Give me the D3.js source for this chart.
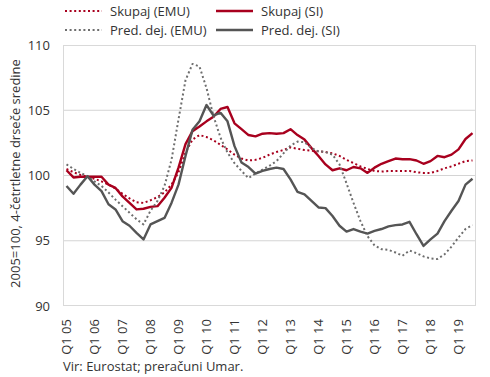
<!DOCTYPE html>
<html>
<head>
<meta charset="utf-8">
<script src="https://cdn.jsdelivr.net/npm/d3@7"></script>
<style>
  body { margin: 0; background: #fff; }
  svg text { font-family: "Open Sans", sans-serif; fill: #333; }
</style>
</head>
<body>
<div id="my_dataviz"></div>
<script>
const quarters = [
  "Q1 05","Q2 05","Q3 05","Q4 05","Q1 06","Q2 06","Q3 06","Q4 06",
  "Q1 07","Q2 07","Q3 07","Q4 07","Q1 08","Q2 08","Q3 08","Q4 08",
  "Q1 09","Q2 09","Q3 09","Q4 09","Q1 10","Q2 10","Q3 10","Q4 10",
  "Q1 11","Q2 11","Q3 11","Q4 11","Q1 12","Q2 12","Q3 12","Q4 12",
  "Q1 13","Q2 13","Q3 13","Q4 13","Q1 14","Q2 14","Q3 14","Q4 14",
  "Q1 15","Q2 15","Q3 15","Q4 15","Q1 16","Q2 16","Q3 16","Q4 16",
  "Q1 17","Q2 17","Q3 17","Q4 17","Q1 18","Q2 18","Q3 18","Q4 18",
  "Q1 19","Q2 19","Q3 19"
];

const skupajEMU = [100.5,100.25,100.05,99.9,99.75,99.55,99.3,99.0,98.6,98.25,
  97.95,97.9,98.1,98.35,98.7,99.3,100.25,101.75,102.75,103.1,
  102.95,102.7,102.35,102.0,101.6,101.3,101.15,101.2,101.35,101.6,
  101.8,101.95,102.15,102.05,101.95,101.9,101.85,101.8,101.7,101.5,
  101.2,100.95,100.7,100.5,100.35,100.3,100.35,100.35,100.35,100.35,
  100.25,100.2,100.2,100.35,100.55,100.7,100.9,101.1,101.15];

const skupajSI = [100.4,99.85,99.9,99.9,99.9,99.9,99.3,99.05,98.4,97.9,
  97.4,97.45,97.6,97.65,98.3,99.05,100.6,102.4,103.4,103.75,
  104.15,104.5,105.1,105.25,104.0,103.55,103.1,103.0,103.2,103.25,
  103.2,103.25,103.55,103.1,102.75,102.1,101.5,100.85,100.4,100.55,
  100.4,100.65,100.55,100.2,100.6,100.9,101.1,101.3,101.25,101.25,
  101.15,100.9,101.1,101.5,101.4,101.6,102.0,102.8,103.25];

const predEMU = [100.85,100.5,100.2,99.95,99.55,99.2,98.7,98.15,97.65,97.15,
  96.65,96.25,97.3,98.05,99.2,101.2,104.3,107.3,108.55,108.35,
  106.7,104.55,102.9,101.75,100.95,100.35,99.8,100.15,100.45,100.75,
  101.1,101.7,102.3,102.6,102.55,102.1,101.85,101.8,101.6,100.85,
  99.4,97.9,96.5,95.35,94.65,94.35,94.3,94.1,93.85,94.25,
  94.05,93.8,93.65,93.6,93.95,94.55,95.25,95.9,96.2];

const predSI = [99.2,98.6,99.3,99.95,99.3,98.8,97.8,97.4,96.5,96.15,
  95.6,95.1,96.25,96.5,96.75,97.9,99.3,101.5,103.5,104.15,
  105.4,104.6,104.8,104.15,102.25,101.0,100.65,100.15,100.35,100.5,
  100.6,100.5,99.7,98.75,98.55,98.05,97.55,97.5,96.9,96.15,
  95.7,95.9,95.7,95.55,95.75,95.9,96.1,96.2,96.25,96.45,
  95.5,94.6,95.1,95.55,96.5,97.3,98.05,99.3,99.75];

const yTicks = [90, 95, 100, 105, 110];
const xTickLabels = ["Q1 05","Q1 06","Q1 07","Q1 08","Q1 09","Q1 10","Q1 11",
  "Q1 12","Q1 13","Q1 14","Q1 15","Q1 16","Q1 17","Q1 18","Q1 19"];

const seriesNames = ["Skupaj (EMU)", "Skupaj (SI)", "Pred. dej. (EMU)", "Pred. dej. (SI)"];

const red = "#a8001e";
const grey = "#555555";
const greyDot = "#6e6e6e";

const series = [
  { name: seriesNames[0], values: skupajEMU, color: red, dash: "2,2.6", w: 2 },
  { name: seriesNames[1], values: skupajSI, color: red, dash: null, w: 2.4 },
  { name: seriesNames[2], values: predEMU, color: greyDot, dash: "2,2.6", w: 2 },
  { name: seriesNames[3], values: predSI, color: grey, dash: null, w: 2.4 }
];

const width = 490, height = 377;
const plot = { left: 63, right: 476, top: 45, bottom: 306 };

const svg = d3.select("#my_dataviz").append("svg")
  .attr("width", width)
  .attr("height", height);

const x = d3.scaleBand().domain(quarters).range([plot.left, plot.right]).padding(0);
const y = d3.scaleLinear().domain([90, 110]).range([plot.bottom, plot.top]);

// gridlines
svg.append("g")
  .selectAll("line")
  .data(yTicks.filter(d => d > 90 && d < 110))
  .join("line")
  .attr("x1", plot.left).attr("x2", plot.right)
  .attr("y1", d => y(d)).attr("y2", d => y(d))
  .attr("stroke", "#d4d4d4").attr("stroke-width", 1);

// plot border
svg.append("rect")
  .attr("x", plot.left + 0.5).attr("y", plot.top + 0.5)
  .attr("width", plot.right - plot.left - 1)
  .attr("height", plot.bottom - plot.top - 1)
  .attr("fill", "none")
  .attr("stroke", "#d9d9d9");

// y axis
const yAxis = svg.append("g")
  .attr("transform", `translate(${plot.left},0)`)
  .call(d3.axisLeft(y).tickValues(yTicks).tickSize(0).tickPadding(13));
yAxis.select(".domain").remove();
yAxis.selectAll("text")
  .style("font-size", "13px")
  .style("font-family", "'Open Sans', sans-serif")
  .attr("fill", "#333");

svg.append("text")
  .attr("transform", `translate(15,${(plot.top + plot.bottom) / 2 - 2}) rotate(-90)`)
  .attr("text-anchor", "middle")
  .attr("dy", "0.35em")
  .style("font-size", "13px")
  .text("2005=100, 4-četrtletne drseče sredine");

// x axis
const xAxis = svg.append("g")
  .attr("transform", `translate(0,${plot.bottom})`)
  .call(d3.axisBottom(x).tickValues(xTickLabels).tickSize(0));
xAxis.select(".domain").remove();
xAxis.selectAll("text")
  .style("font-size", "13px")
  .style("font-family", "'Open Sans', sans-serif")
  .attr("fill", "#333")
  .attr("text-anchor", "end")
  .attr("y", 0)
  .attr("dy", "0.35em")
  .attr("transform", "translate(0,13) rotate(-90)");

// lines
const line = d3.line()
  .x((d, i) => x(quarters[i]) + x.bandwidth() / 2)
  .y(d => y(d));

svg.append("g")
  .selectAll("path")
  .data(series)
  .join("path")
  .attr("d", d => line(d.values))
  .attr("fill", "none")
  .attr("stroke", d => d.color)
  .attr("stroke-width", d => d.w)
  .attr("stroke-dasharray", d => d.dash)
  .attr("stroke-linejoin", "round");

// legend
const legendPos = [[65, 11], [216, 11], [65, 30], [216, 30]];
const legend = svg.append("g")
  .selectAll("g")
  .data(series)
  .join("g")
  .attr("transform", (d, i) => `translate(${legendPos[i][0]},${legendPos[i][1]})`);

legend.append("line")
  .attr("x1", 0).attr("x2", 37)
  .attr("stroke", d => d.color)
  .attr("stroke-width", d => d.w)
  .attr("stroke-dasharray", d => d.dash);

legend.append("text")
  .attr("x", 45)
  .attr("dy", "0.35em")
  .style("font-size", "13px")
  .text(d => d.name);

// source
svg.append("text")
  .attr("x", 63).attr("y", 371)
  .style("font-size", "13px")
  .text("Vir: Eurostat; preračuni Umar.");
</script>
</body>
</html>
